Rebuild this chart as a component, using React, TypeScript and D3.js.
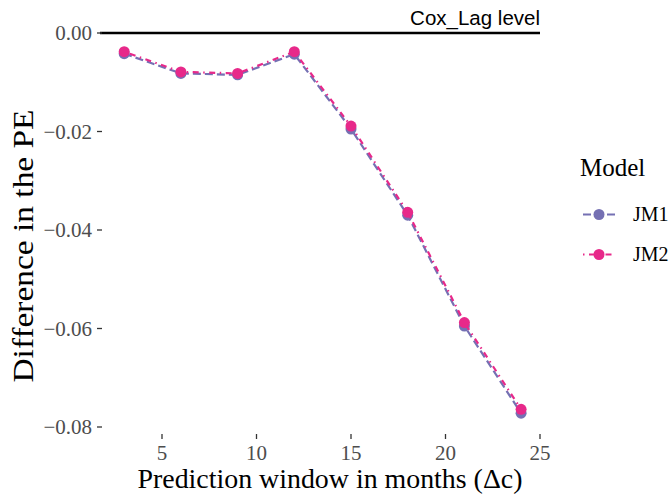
import React from "react";
import * as d3 from "d3";

const windows = [3, 6, 9, 12, 15, 18, 21, 24];
const jm1 = [-0.0042, -0.0082, -0.0085, -0.0043, -0.0195, -0.037, -0.0595, -0.0772];
const jm2 = [-0.0038, -0.0079, -0.0082, -0.0038, -0.0189, -0.0364, -0.0588, -0.0764];
const xTicks = [5, 10, 15, 20, 25];
const yTicks = [0, -0.02, -0.04, -0.06, -0.08];
const seriesNames = ["JM1", "JM2"];
const colors = ["#7570B3", "#E7298A"];
const dashes = ["8,4", "1.5,4.5,6,4.5"];

export default function App() {
  const W = 670, H = 494;
  const x = d3.scaleLinear().domain([5, 25]).range([162, 540]);
  const y = d3.scaleLinear().domain([0, -0.08]).range([33, 427]);
  const line = d3.line<number>().x((_, i) => x(windows[i])).y((d) => y(d));
  const serif = "'Liberation Serif', 'Times New Roman', serif";
  const series = [jm1, jm2];
  return (
    <svg width={W} height={H} style={{ position: "absolute", left: 0, top: 0, background: "#fff" }}>
      {/* reference line */}
      <line x1={100} x2={540} y1={y(0)} y2={y(0)} stroke="#000" strokeWidth={2.5} />
      <text x={540} y={25} textAnchor="end" fontFamily="'Liberation Sans', Arial, sans-serif" fontSize={20.5} fill="#000">Cox_Lag level</text>
      {/* y axis */}
      {yTicks.map((t) => (
        <g key={t}>
          <line x1={97} x2={102} y1={y(t)} y2={y(t)} stroke="#333" strokeWidth={1.3} />
          <text x={92} y={y(t)} dy="0.35em" textAnchor="end" fontFamily={serif} fontSize={21} fill="#4D4D4D">
            {t === 0 ? "0.00" : "\u2212" + Math.abs(t).toFixed(2)}
          </text>
        </g>
      ))}
      {/* x axis */}
      {xTicks.map((t) => (
        <g key={t}>
          <line x1={x(t)} x2={x(t)} y1={434} y2={439} stroke="#333" strokeWidth={1.3} />
          <text x={x(t)} y={460} textAnchor="middle" fontFamily={serif} fontSize={21} fill="#4D4D4D">{t}</text>
        </g>
      ))}
      <text x={330} y={488} textAnchor="middle" fontFamily={serif} fontSize={28} textLength={385} lengthAdjust="spacingAndGlyphs" fill="#000">Prediction window in months (Δc)</text>
      <text transform="translate(33,246) rotate(-90)" textAnchor="middle" fontFamily={serif} fontSize={30} textLength={273} lengthAdjust="spacingAndGlyphs" fill="#000">Difference in the PE</text>
      {/* series */}
      {series.map((s, k) => (
        <g key={k}>
          <path d={line(s) || ""} fill="none" stroke={colors[k]} strokeWidth={2.2} strokeDasharray={dashes[k]} />
          {s.map((v, i) => (
            <circle key={i} cx={x(windows[i])} cy={y(v)} r={5.5} fill={colors[k]} />
          ))}
        </g>
      ))}
      {/* legend */}
      <text x={580} y={176} fontFamily={serif} fontSize={25} fill="#000">Model</text>
      {seriesNames.map((n, k) => {
        const ly = 214.5 + k * 40;
        return (
          <g key={n}>
            <line x1={583} x2={615} y1={ly} y2={ly} stroke={colors[k]} strokeWidth={2.2} strokeDasharray={dashes[k]} />
            <circle cx={599} cy={ly} r={5.5} fill={colors[k]} />
            <text x={633} y={ly} dy="0.33em" fontFamily={serif} fontSize={20} fill="#000">{n}</text>
          </g>
        );
      })}
    </svg>
  );
}
